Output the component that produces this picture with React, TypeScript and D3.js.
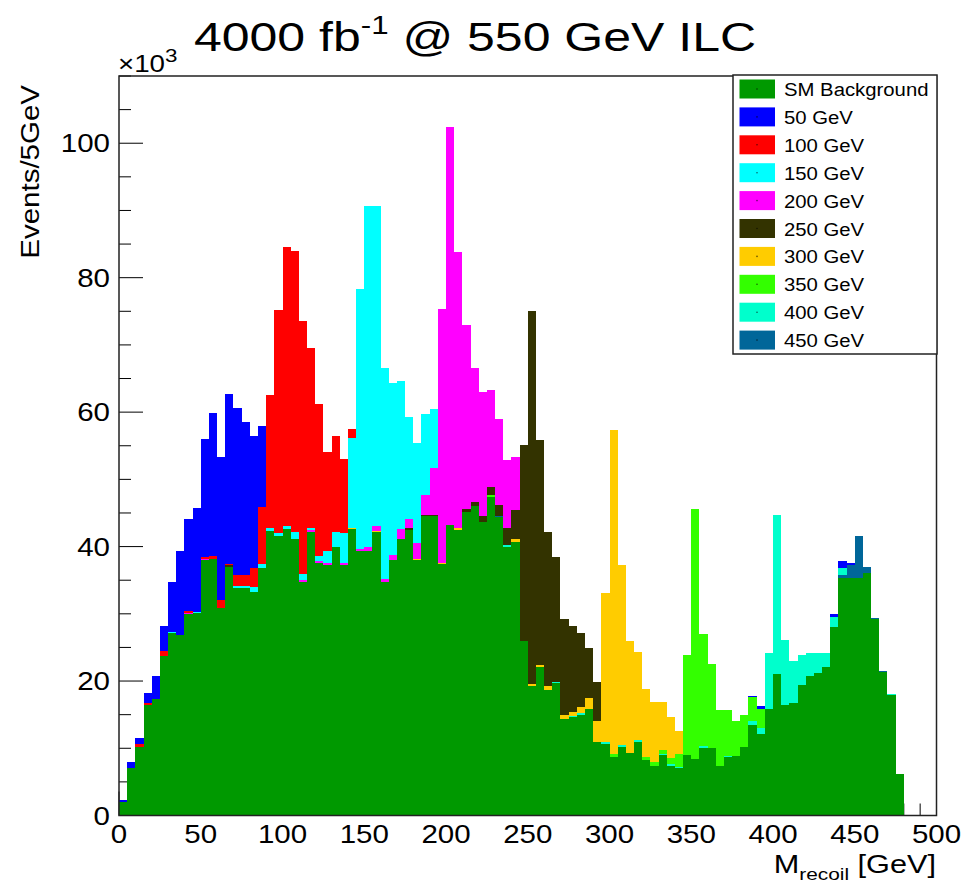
import React from 'react';
import * as d3 from 'd3';

// Recoil-mass histogram, 5 GeV bins from 0 to 500 GeV, values in thousands of events
const binLow: number[] = d3.range(0, 500, 5);

const smBackground = [
  2.05, 7.0, 10.2, 16.5, 17.4, 23.7, 27.1, 26.9, 29.9, 30.1,
  38.0, 38.2, 30.8, 37.0, 33.8, 33.8, 33.3, 36.8, 42.3, 41.6,
  42.6, 41.1, 34.8, 42.1, 37.5, 37.3, 40.0, 37.3, 42.6, 39.3,
  39.3, 42.1, 34.8, 38.0, 41.2, 42.4, 38.0, 44.5, 44.5, 37.4,
  43.2, 42.4, 45.2, 46.0, 43.7, 47.4, 44.4, 40.0, 40.7, 25.9,
  19.3, 22.1, 18.7, 19.7, 14.4, 14.6, 15.0, 15.8, 10.9, 10.7,
  8.7, 10.2, 9.3, 10.9, 8.2, 7.4, 9.0, 7.4, 7.0, 9.0,
  8.4, 10.1, 10.1, 7.4, 8.7, 8.85, 10.2, 13.5, 12.1, 15.85,
  21.0, 16.5, 16.8, 19.4, 20.7, 21.25, 22.1, 28.1, 35.4, 35.3,
  35.4, 36.0, 29.3, 21.4, 17.9, 6.1, 0, 0, 0, 0,
];

const sig50 = [
  0.25, 0.9, 1.0, 1.5, 3.3, 3.8, 7.4, 12.4, 13.7, 15.5,
  17.6, 21.3, 21.3, 25.3, 24.8, 22.8, 19.6, 12.1, 0, 0,
  0, 0, 0, 0, 0, 0, 0, 0, 0, 0,
  0, 0, 0, 0, 0, 0, 0, 0, 0, 0,
  0, 0, 0, 0, 0, 0, 0, 0, 0, 0,
  0, 0, 0, 0, 0, 0, 0, 0, 0, 0,
  0, 0, 0, 0, 0, 0, 0, 0, 0, 0,
  0, 0, 0, 0, 0, 0, 0, 0.2, 0.5, 0,
  0, 0, 0, 0, 0, 0, 0, 0.4, 1.0, 0.2,
  0, 0, 0, 0, 0, 0, 0, 0, 0, 0,
];

const sig100 = [
  0, 0, 0.4, 0.2, 0, 0.7, 0, 0, 0.3, 0,
  0.3, 0.4, 1.3, 0.2, 1.7, 1.7, 2.8, 8.5, 19.9, 33.2,
  41.6, 41.8, 37.7, 26.8, 22.6, 14.7, 14.2, 11.1, 1.4, 0,
  0, 0, 0, 0, 0, 0, 0, 0, 0, 0,
  0, 0, 0, 0, 0, 0, 0, 0, 0, 0,
  0, 0, 0, 0, 0, 0, 0, 0, 0, 0,
  0, 0, 0, 0, 0, 0, 0, 0, 0, 0,
  0, 0, 0, 0, 0, 0, 0, 0, 0, 0,
  0, 0, 0, 0, 0, 0, 0, 0, 0, 0,
  0, 0, 0, 0, 0, 0, 0, 0, 0, 0,
];

const sig150 = [
  0, 0, 0, 0, 0, 0, 0.2, 0, 0, 0.2,
  0, 0, 0, 0, 0.3, 0.3, 0.7, 0.6, 0.4, 0.4,
  0.4, 1.1, 0.8, 0.3, 0.8, 1.7, 2.2, 4.4, 13.4, 38.7,
  50.8, 47.6, 31.4, 25.7, 22.0, 15.2, 14.9, 12.0, 8.7, 0,
  0, 0, 0, 0, 0, 0, 0, 0, 0, 0,
  0, 0, 0, 0, 0, 0, 0, 0, 0, 0,
  0, 0, 0, 0, 0, 0, 0, 0, 0, 0,
  0, 0, 0, 0, 0, 0, 0, 0, 0, 0,
  0, 0, 0, 0, 0, 0, 0, 0, 0, 0,
  0, 0, 0, 0, 0, 0, 0, 0, 0, 0,
];

const sig200 = [
  0, 0, 0, 0, 0, 0, 0, 0, 0.2, 0,
  0.1, 0, 0, 0, 0, 0, 0, 0, 0, 0,
  0, 0, 0.3, 0.3, 0.3, 0.3, 0, 0.3, 0, 0.3,
  0.6, 0.8, 0.4, 0.7, 1.4, 1.4, 2.3, 3.0, 7.0, 37.8,
  59.2, 41.1, 27.3, 20.0, 18.4, 14.5, 12.8, 10.2, 7.9, 0,
  0, 0, 0, 0, 0, 0, 0, 0, 0, 0,
  0, 0, 0, 0, 0, 0, 0, 0, 0, 0,
  0, 0, 0, 0, 0, 0, 0, 0, 0, 0,
  0, 0, 0, 0, 0, 0, 0, 0, 0, 0,
  0, 0, 0, 0, 0, 0, 0, 0, 0, 0,
];

const sig250 = [
  0, 0, 0, 0, 0, 0, 0, 0, 0, 0,
  0, 0, 0, 0.2, 0, 0, 0, 0, 0, 0,
  0, 0, 0, 0, 0, 0, 0, 0, 0, 0,
  0, 0, 0, 0, 0, 0.3, 0, 0.2, 0.2, 0,
  0, 0, 0.4, 0.6, 0.9, 1.2, 1.6, 2.5, 4.3, 29.1,
  55.5, 33.4, 23.0, 18.5, 14.2, 12.8, 11.1, 7.4, 5.8, 0,
  0, 0, 0, 0, 0, 0, 0, 0, 0, 0,
  0, 0, 0, 0, 0, 0, 0, 0, 0, 0,
  0, 0, 0, 0, 0, 0, 0, 0, 0, 0,
  0, 0, 0, 0, 0, 0, 0, 0, 0, 0,
];

const sig300 = [
  0, 0, 0, 0, 0, 0, 0, 0, 0, 0,
  0, 0, 0, 0, 0, 0, 0, 0, 0, 0,
  0, 0, 0, 0, 0, 0, 0, 0, 0.1, 0,
  0, 0.15, 0, 0, 0, 0, 0.2, 0, 0, 0.2,
  0, 0.3, 0, 0, 0, 0, 0, 0, 0.4, 0.1,
  0.2, 0.3, 0.5, 0, 0.6, 0.6, 0.9, 1.7, 3.1, 22.2,
  48.2, 26.7, 16.7, 13.1, 10.05, 8.9, 7.2, 6.1, 3.3, 0,
  0, 0, 0, 0, 0, 0, 0, 0, 0, 0,
  0, 0, 0, 0, 0, 0, 0, 0, 0, 0,
  0, 0, 0, 0, 0, 0, 0, 0, 0, 0,
];

const sig350 = [
  0, 0, 0, 0, 0, 0, 0, 0, 0, 0,
  0, 0, 0, 0, 0, 0, 0, 0, 0, 0,
  0, 0, 0, 0, 0, 0, 0, 0, 0, 0,
  0, 0, 0, 0, 0, 0, 0, 0, 0, 0,
  0, 0, 0, 0, 0, 0.2, 0, 0, 0, 0,
  0, 0, 0, 0, 0, 0, 0, 0, 0, 0,
  0.5, 0, 0, 0, 0.55, 0.6, 0.5, 1.0, 2.0, 14.9,
  37.2, 16.7, 12.4, 8.3, 6.8, 5.25, 4.7, 3.5, 2.8, 0,
  0, 0, 0, 0, 0, 0, 0, 0, 0, 0,
  0, 0, 0, 0, 0, 0, 0, 0, 0, 0,
];

const sig400 = [
  0, 0, 0, 0, 0, 0, 0, 0, 0, 0,
  0, 0, 0, 0, 0, 0, 0, 0, 0, 0,
  0, 0, 0, 0, 0, 0, 0, 0, 0, 0,
  0, 0, 0, 0, 0, 0, 0, 0, 0, 0,
  0, 0, 0, 0, 0, 0, 0, 0.2, 0, 0,
  0, 0, 0, 0.2, 0, 0.2, 0.2, 0, 0, 0.2,
  0, 0.3, 0, 0.3, 0, 0, 0.2, 0.2, 0.2, 0,
  0, 0.2, 0, 0, 0.2, 0, 0, 0.6, 0.9, 8.25,
  23.7, 9.6, 6.2, 4.5, 3.4, 2.85, 2.0, 1.5, 1.1, 0,
  0, 0, 0, 0, 0.15, 0, 0, 0, 0, 0,
];

const sig450 = [
  0, 0, 0, 0, 0, 0, 0, 0, 0, 0,
  0, 0, 0, 0, 0, 0, 0, 0, 0, 0,
  0, 0, 0, 0, 0, 0, 0, 0, 0, 0,
  0, 0, 0, 0, 0, 0, 0, 0, 0, 0,
  0, 0, 0, 0, 0, 0, 0.2, 0, 0, 0,
  0, 0, 0, 0, 0, 0, 0, 0, 0, 0,
  0, 0, 0, 0, 0, 0, 0, 0, 0, 0,
  0, 0, 0, 0, 0, 0, 0, 0, 0, 0,
  0, 0, 0, 0, 0, 0, 0, 0, 0.3, 2.0,
  6.2, 0.9, 0.15, 0.15, 0, 0, 0, 0, 0, 0,
];

// Legend order (top to bottom)
const seriesKeys = ['sm', 's50', 's100', 's150', 's200', 's250', 's300', 's350', 's400', 's450'];
const seriesLabels = ['SM Background', '50 GeV', '100 GeV', '150 GeV', '200 GeV', '250 GeV', '300 GeV', '350 GeV', '400 GeV', '450 GeV'];
const seriesColors = ['#009900', '#0000ff', '#ff0000', '#00ffff', '#ff00ff', '#333300', '#ffcc00', '#33ff00', '#00ffcc', '#006699'];
const seriesValues = [smBackground, sig50, sig100, sig150, sig200, sig250, sig300, sig350, sig400, sig450];

// Stack order, bottom to top
const stackKeys = ['sm', 's450', 's400', 's350', 's300', 's250', 's200', 's150', 's100', 's50'];

const yMajorTicks = [0, 20, 40, 60, 80, 100];
const xMajorTicks = [0, 50, 100, 150, 200, 250, 300, 350, 400, 450, 500];

const FONT = '"Liberation Sans", Arial, Helvetica, sans-serif';
const SX = 1.18; // horizontal glyph stretch of axis text

export default function App() {
  const x = d3.scaleLinear().domain([0, 500]).range([119, 936.5]);
  const y = d3.scaleLinear().domain([0, 110]).range([815.5, 76]);

  const rows = binLow.map((b, i) => {
    const r: Record<string, number> = { b };
    seriesKeys.forEach((k, j) => { r[k] = seriesValues[j][i]; });
    return r;
  });
  const layers = d3.stack<Record<string, number>>().keys(stackKeys)(rows);
  const colorOf = (k: string) => seriesColors[seriesKeys.indexOf(k)];

  const yMinor = d3.range(0, 111, 5).filter((v) => v % 20 !== 0);
  const xMinor = d3.range(0, 501, 10).filter((v) => v % 50 !== 0);

  const [x0, x1] = x.range();
  const [yb, yt] = y.range();

  const legendX = 733;
  const legendY = 75;
  const rowH = 27.9;

  return (
    <svg width={965} height={885} style={{ position: 'absolute', left: 0, top: 0, background: '#fff' }} fontFamily={FONT}>
      <rect x={0} y={0} width={965} height={885} fill="#fff" />

      {/* ticks sit beneath the filled histograms */}
      <g stroke="#000" strokeWidth={1}>
        {yMajorTicks.map((v) => (
          <line key={`ym${v}`} x1={x0} x2={x0 + 24} y1={y(v)} y2={y(v)} />
        ))}
        {yMinor.map((v) => (
          <line key={`yn${v}`} x1={x0} x2={x0 + 12} y1={y(v)} y2={y(v)} />
        ))}
        {xMajorTicks.map((v) => (
          <line key={`xm${v}`} x1={x(v)} x2={x(v)} y1={yb} y2={yb - 24} />
        ))}
        {xMinor.map((v) => (
          <line key={`xn${v}`} x1={x(v)} x2={x(v)} y1={yb} y2={yb - 12} />
        ))}
      </g>

      {/* stacked histogram */}
      <g shapeRendering="crispEdges">
        {layers.map((layer) => (
          <g key={layer.key} fill={colorOf(layer.key)}>
            {layer.map((d, i) => {
              if (d[1] - d[0] <= 0) return null;
              const xl = x(binLow[i]);
              const xr = x(binLow[i] + 5);
              return (
                <rect key={i} x={xl} y={y(d[1])} width={xr - xl} height={y(d[0]) - y(d[1])} />
              );
            })}
          </g>
        ))}
      </g>

      {/* frame */}
      <rect x={x0} y={yt} width={x1 - x0} height={yb - yt} fill="none" stroke="#222" strokeWidth={1.5} />

      {/* y tick labels */}
      {yMajorTicks.map((v) => (
        <text key={`yl${v}`} transform={`translate(110,${y(v) + 9}) scale(${SX},1)`} textAnchor="end" fontSize={25} fill="#000">
          {v}
        </text>
      ))}
      {/* x tick labels */}
      {xMajorTicks.map((v) => (
        <text key={`xl${v}`} transform={`translate(${x(v)},${yb + 27}) scale(${SX},1)`} textAnchor="middle" fontSize={25} fill="#000">
          {v}
        </text>
      ))}

      {/* exponent marker */}
      <text transform={`translate(118,72) scale(${SX},1)`} fontSize={23.5} fill="#000">
        ×10<tspan dy={-10} fontSize={19}>3</tspan>
      </text>

      {/* axis titles */}
      <text transform={`translate(936,873) scale(${SX * 1.04},1)`} textAnchor="end" fontSize={25} fill="#000">
        M<tspan dy={7} fontSize={17}>recoil</tspan>
        <tspan dy={-7}> [GeV]</tspan>
      </text>
      <text transform={`translate(39,85) rotate(-90) scale(${SX * 1.0},1)`} textAnchor="end" fontSize={25} fill="#000">
        Events/5GeV
      </text>

      {/* title */}
      <text transform={`translate(475,51) scale(1.25,1)`} textAnchor="middle" fontSize={40} fill="#000">
        4000 fb<tspan dy={-17} fontSize={25}>-1</tspan>
        <tspan dy={17}> @ 550 GeV ILC</tspan>
      </text>

      {/* legend */}
      <g>
        <rect x={legendX} y={legendY} width={937 - legendX} height={354 - legendY} fill="#fff" stroke="#222" strokeWidth={1.5} />
        {seriesKeys.map((k, i) => {
          const cy = legendY + 14 + rowH * i;
          return (
            <g key={k}>
              <rect x={739.5} y={cy - 9.5} width={35.5} height={19} fill={seriesColors[i]} />
              <circle cx={757} cy={cy} r={0.8} fill="#000" opacity={0.6} />
              <text transform={`translate(784,${cy + 7}) scale(1.07,1)`} fontSize={19} fill="#000">
                {seriesLabels[i]}
              </text>
            </g>
          );
        })}
      </g>
    </svg>
  );
}
